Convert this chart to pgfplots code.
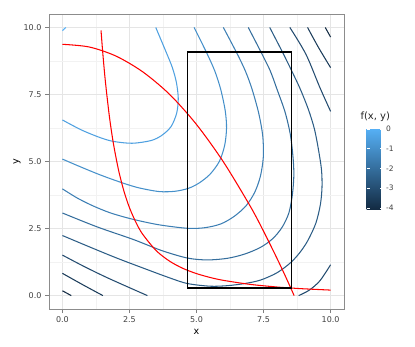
\documentclass[border=0pt]{standalone}
\usepackage{pgfplots}
\pgfplotsset{compat=1.18}
\usepackage{fontspec}
\setmainfont{DejaVu Sans}
\definecolor{cHi}{RGB}{86,177,247}
\definecolor{cLo}{RGB}{19,43,67}
\colorlet{lv0}{cHi}
\colorlet{lvA}{cHi!87.5!cLo}
\colorlet{lvB}{cHi!75!cLo}
\colorlet{lvC}{cHi!62.5!cLo}
\colorlet{lvD}{cHi!50!cLo}
\colorlet{lvE}{cHi!37.5!cLo}
\colorlet{lvF}{cHi!25!cLo}
\colorlet{lvG}{cHi!12.5!cLo}
\colorlet{lvH}{cLo}
\begin{document}
\begin{tikzpicture}
\useasboundingbox (0,0) rectangle (415pt,346pt);
\begin{axis}[
  at={(49pt,37pt)}, anchor=south west,
  scale only axis, width=295pt, height=295pt,
  xmin=-0.5, xmax=10.5, ymin=-0.5, ymax=10.5,
  xtick={0,2.5,5,7.5,10}, xticklabels={0.0,2.5,5.0,7.5,10.0},
  ytick={0,2.5,5,7.5,10}, yticklabels={0.0,2.5,5.0,7.5,10.0},
  minor xtick={1.25,3.75,6.25,8.75}, minor ytick={1.25,3.75,6.25,8.75},
  grid=both,
  major grid style={draw=black!10, line width=0.6pt},
  minor grid style={draw=black!5, line width=0.5pt},
  axis line style={draw=black!45, line width=0.7pt},
  tick align=outside, major tick length=4pt, minor tick length=0pt,
  xtick pos=bottom, ytick pos=left,
  tick style={draw=black!50, line width=0.6pt},
  ticklabel style={font=\fontsize{8}{9}\selectfont, text=black!75},
  xlabel={x}, ylabel={y},
  label style={font=\fontsize{9.6}{11}\selectfont, text=black},
  xlabel style={at={(axis description cs:0.5,-0.078)}, anchor=center},
  ylabel style={at={(axis description cs:-0.1085,0.5)}, anchor=center},
  colormap={gg}{rgb255=(19,43,67) rgb255=(86,177,247)},
  point meta min=-4.05, point meta max=0.05,
  colorbar,
  colorbar style={
    at={(parent axis.south east)}, anchor=south west,
    xshift=14pt, yshift=100pt,
    width=16pt, height=81pt,
    ytick={-4,-3,-2,-1,0}, yticklabels={-4,-3,-2,-1,0},
    yticklabel style={font=\fontsize{7.5}{9}\selectfont, text=black!75},
    major tick length=3pt, tick align=inside,
    ytick style={draw=white, line width=0.5pt},
    axis line style={draw=none},
  },
  every axis plot/.append style={line width=1.05pt},
]
% contours
\addplot[lv0] coordinates {(0,9.88) (0.13,10.0)};
\addplot[lvA, smooth] coordinates {(0,6.55) (0.7,6.18) (1.41,5.89) (1.9,5.75) (2.6,5.68) (3.3,5.78) (3.7,5.97) (4.05,6.3) (4.26,6.8) (4.32,7.35) (4.25,7.95) (4.1,8.5) (3.88,9.05) (3.48,10.0)};
\addplot[lvB, smooth] coordinates {(0,5.09) (0.7,4.79) (1.41,4.50) (2.1,4.25) (2.8,4.03) (3.6,3.88) (4.2,3.89) (4.7,4.0) (5.1,4.2) (5.5,4.52) (5.85,5.0) (6.05,5.6) (6.12,6.25) (6.07,6.9) (5.9,7.7) (5.68,8.38) (5.38,9.05) (4.91,10.0)};
\addplot[lvC, smooth] coordinates {(0,3.98) (0.55,3.64) (1.13,3.35) (1.8,3.08) (2.61,2.85) (3.6,2.64) (4.66,2.51) (5.3,2.53) (5.9,2.67) (6.4,2.95) (6.85,3.35) (7.17,3.85) (7.38,4.44) (7.49,5.15) (7.47,5.95) (7.32,6.8) (7.07,7.7) (6.82,8.38) (6.5,9.05) (6.0,10.0)};
\addplot[lvD, smooth] coordinates {(0,3.08) (1.3,2.56) (2.65,2.09) (3.7,1.68) (4.66,1.40) (5.4,1.33) (6.15,1.39) (6.8,1.55) (7.39,1.80) (7.85,2.13) (8.2,2.56) (8.45,3.1) (8.58,3.8) (8.63,4.5) (8.6,5.15) (8.5,6.0) (8.3,6.85) (8.0,7.7) (7.75,8.38) (7.42,9.05) (6.93,10.0)};
\addplot[lvE, smooth] coordinates {(0,2.24) (1,1.82) (2,1.41) (3,1.03) (4,0.66) (4.66,0.45) (5.5,0.35) (6.15,0.37) (6.8,0.45) (7.39,0.58) (8.0,0.85) (8.5,1.22) (8.85,1.6) (9.15,2.05) (9.45,2.7) (9.62,3.4) (9.68,4.05) (9.66,4.7) (9.55,5.43) (9.4,6.2) (9.18,6.92) (8.87,7.7) (8.55,8.38) (8.22,9.05) (7.73,10.0)};
\addplot[lvF, smooth] coordinates {(8.48,10.0) (9.08,9.0) (9.6,7.76) (10.0,6.87)};
\addplot[lvF, smooth] coordinates {(0,1.51) (0.8,1.09) (1.6,0.70) (2.4,0.34) (3.17,0.0)};
\addplot[lvF, smooth] coordinates {(8.81,0.0) (9.2,0.2) (9.6,0.55) (10.0,1.15)};
\addplot[lvG, smooth] coordinates {(9.14,10.0) (9.55,9.25) (10.0,8.5)};
\addplot[lvG, smooth] coordinates {(0,0.83) (0.75,0.41) (1.51,0.0)};
\addplot[lvH] coordinates {(9.8,10.0) (10.0,9.64)};
\addplot[lvH] coordinates {(0,0.18) (0.33,0.0)};
% red curves
\addplot[red, smooth] coordinates {(0,9.37) (1,9.27) (2,8.93) (3,8.34) (4,7.50) (5,6.38) (6,4.99) (7,3.34) (7.5,2.40) (8,1.39) (8.3,0.755) (8.52,0.27) (8.64,0.0)};
\addplot[red, smooth] coordinates {(1.44,9.886) (1.5,9.111) (1.6,8.008) (1.75,6.694) (1.9,5.679) (2.1,4.649) (2.3,3.875) (2.5,3.28) (2.75,2.711) (3.0,2.278) (3.5,1.673) (4.0,1.281) (4.5,1.012) (5.0,0.82) (5.5,0.678) (6.0,0.569) (7.0,0.418) (8.0,0.320) (8.53,0.282) (9.0,0.253) (10.0,0.205)};
% rectangle
\addplot[black, line width=1.3pt, line join=miter] coordinates {(4.66,0.28) (8.53,0.28) (8.53,9.08) (4.66,9.08) (4.66,0.28) (8.53,0.28)};
\end{axis}
\node[anchor=base west, font=\fontsize{10}{12}\selectfont, text=black!85] at (357pt,226.5pt) {f(x, y)};
\end{tikzpicture}
\end{document}
